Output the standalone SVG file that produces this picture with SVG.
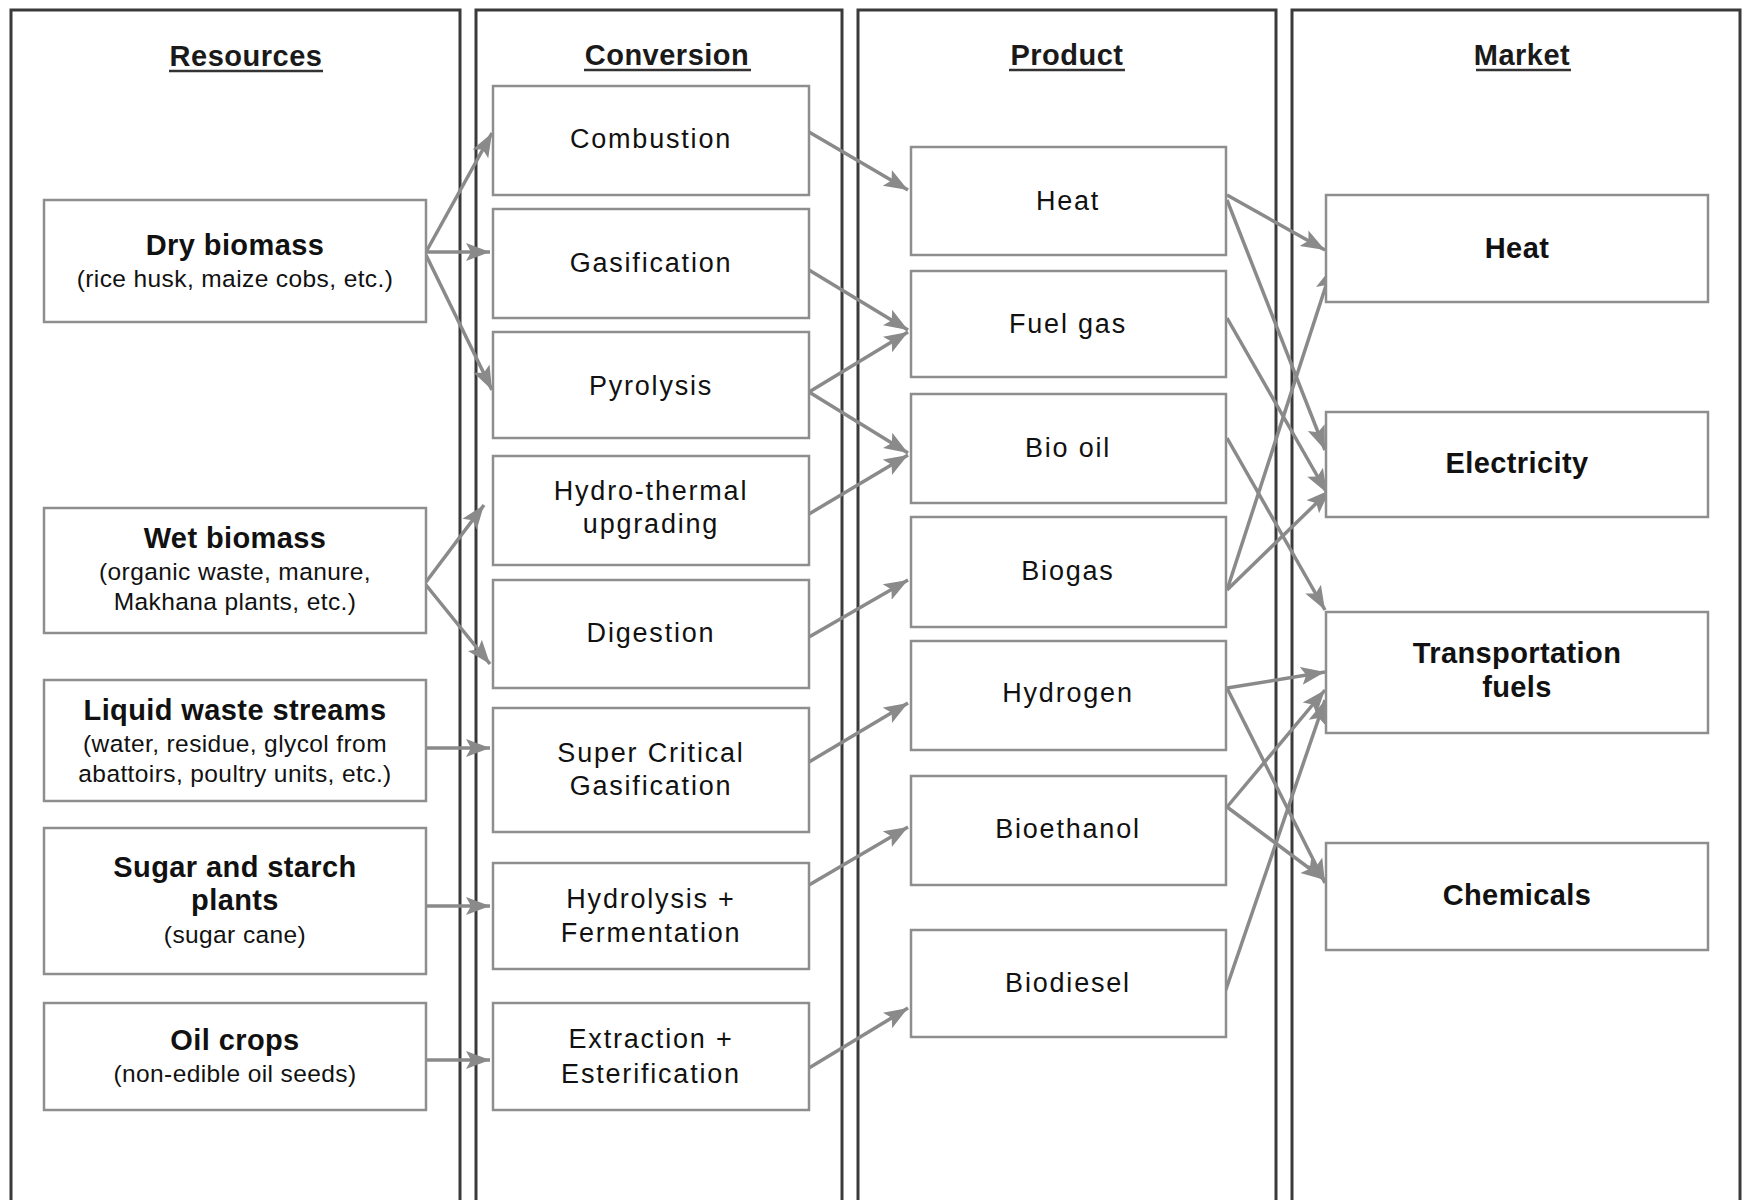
<svg xmlns="http://www.w3.org/2000/svg" width="1744" height="1200" viewBox="0 0 1744 1200">
<style>
.panel{fill:none;stroke:#3a3a3a;stroke-width:3}
.box{fill:#fff;stroke:#8e8e8e;stroke-width:2.5}
.h{font-family:"Liberation Sans",Arial,sans-serif;font-weight:bold;font-size:29px;fill:#1a1a1a;text-anchor:middle;letter-spacing:0.5px}
.ul{stroke:#333;stroke-width:2.5}
.b{font-family:"Liberation Sans",Arial,sans-serif;font-weight:bold;font-size:29px;fill:#111;text-anchor:middle;letter-spacing:0.4px}
.s{font-family:"Liberation Sans",Arial,sans-serif;font-size:24.5px;fill:#111;text-anchor:middle;letter-spacing:0.4px}
.t{font-family:"Liberation Sans",Arial,sans-serif;font-size:27px;fill:#111;text-anchor:middle;letter-spacing:1.8px}
.c{fill:none;stroke:#8a8a8a;stroke-width:3.5;marker-end:url(#ah)}
</style>
<defs>
<marker id="ah" markerUnits="userSpaceOnUse" markerWidth="26" markerHeight="20" refX="24" refY="10" orient="auto">
<path d="M0,1 L24,10 L0,19 L5,10 Z" fill="#8a8a8a"/>
</marker>
</defs>
<rect width="1744" height="1200" fill="#fff"/>
<g id="panels">
<rect class="panel" x="11" y="10" width="449" height="1210"/>
<rect class="panel" x="476" y="10" width="366" height="1210"/>
<rect class="panel" x="858" y="10" width="418" height="1210"/>
<rect class="panel" x="1292" y="10" width="448" height="1210"/>
<text class="h" x="246" y="66">Resources</text>
<line class="ul" x1="169" y1="71" x2="323" y2="71"/>
<text class="h" x="667" y="65">Conversion</text>
<line class="ul" x1="584" y1="70" x2="751" y2="70"/>
<text class="h" x="1067" y="65">Product</text>
<line class="ul" x1="1009" y1="70" x2="1125" y2="70"/>
<text class="h" x="1522" y="65">Market</text>
<line class="ul" x1="1476" y1="70" x2="1571" y2="70"/>
</g>
<g id="connectors">
<line class="c" x1="426" y1="252" x2="492" y2="133"/>
<line class="c" x1="426" y1="252" x2="490" y2="252"/>
<line class="c" x1="426" y1="255" x2="492" y2="390"/>
<line class="c" x1="426" y1="582" x2="484" y2="505"/>
<line class="c" x1="426" y1="585" x2="490" y2="664"/>
<line class="c" x1="426" y1="748" x2="490" y2="748"/>
<line class="c" x1="426" y1="906" x2="490" y2="906"/>
<line class="c" x1="426" y1="1060" x2="490" y2="1060"/>
<line class="c" x1="809" y1="132" x2="908" y2="190"/>
<line class="c" x1="809" y1="270" x2="908" y2="330"/>
<line class="c" x1="809" y1="392" x2="908" y2="332"/>
<line class="c" x1="809" y1="392" x2="908" y2="453"/>
<line class="c" x1="809" y1="514" x2="908" y2="455"/>
<line class="c" x1="809" y1="637" x2="908" y2="580"/>
<line class="c" x1="809" y1="762" x2="908" y2="703"/>
<line class="c" x1="809" y1="885" x2="908" y2="827"/>
<line class="c" x1="809" y1="1068" x2="908" y2="1008"/>
<line class="c" x1="1227" y1="195" x2="1325" y2="250"/>
<line class="c" x1="1227" y1="200" x2="1325" y2="450"/>
<line class="c" x1="1227" y1="318" x2="1327" y2="493"/>
<line class="c" x1="1227" y1="438" x2="1325" y2="610"/>
<line class="c" x1="1227" y1="590" x2="1332" y2="267"/>
<line class="c" x1="1227" y1="590" x2="1330" y2="490"/>
<line class="c" x1="1227" y1="688" x2="1325" y2="672"/>
<line class="c" x1="1227" y1="688" x2="1325" y2="883"/>
<line class="c" x1="1227" y1="807" x2="1325" y2="690"/>
<line class="c" x1="1227" y1="807" x2="1325" y2="880"/>
<line class="c" x1="1223" y1="998" x2="1325" y2="700"/>
</g>
<g id="res-dry"><rect class="box" x="44" y="200" width="382" height="122"/>
<text class="b" x="235" y="255">Dry biomass</text>
<text class="s" x="235" y="287">(rice husk, maize cobs, etc.)</text></g>
<g id="res-wet"><rect class="box" x="44" y="508" width="382" height="125"/>
<text class="b" x="235" y="548">Wet biomass</text>
<text class="s" x="235" y="580">(organic waste, manure,</text>
<text class="s" x="235" y="610">Makhana plants, etc.)</text></g>
<g id="res-liquid"><rect class="box" x="44" y="680" width="382" height="121"/>
<text class="b" x="235" y="720">Liquid waste streams</text>
<text class="s" x="235" y="752">(water, residue, glycol from</text>
<text class="s" x="235" y="782">abattoirs, poultry units, etc.)</text></g>
<g id="res-sugar"><rect class="box" x="44" y="828" width="382" height="146"/>
<text class="b" x="235" y="877">Sugar and starch</text>
<text class="b" x="235" y="910">plants</text>
<text class="s" x="235" y="943">(sugar cane)</text></g>
<g id="res-oil"><rect class="box" x="44" y="1003" width="382" height="107"/>
<text class="b" x="235" y="1050">Oil crops</text>
<text class="s" x="235" y="1082">(non-edible oil seeds)</text></g>
<g id="conv-combustion"><rect class="box" x="493" y="86" width="316" height="109"/>
<text class="t" x="651" y="148">Combustion</text></g>
<g id="conv-gasification"><rect class="box" x="493" y="209" width="316" height="109"/>
<text class="t" x="651" y="272">Gasification</text></g>
<g id="conv-pyrolysis"><rect class="box" x="493" y="332" width="316" height="106"/>
<text class="t" x="651" y="395">Pyrolysis</text></g>
<g id="conv-hydrothermal"><rect class="box" x="493" y="456" width="316" height="109"/>
<text class="t" x="651" y="500">Hydro-thermal</text>
<text class="t" x="651" y="533">upgrading</text></g>
<g id="conv-digestion"><rect class="box" x="493" y="580" width="316" height="108"/>
<text class="t" x="651" y="642">Digestion</text></g>
<g id="conv-supercritical"><rect class="box" x="493" y="708" width="316" height="124"/>
<text class="t" x="651" y="762">Super Critical</text>
<text class="t" x="651" y="795">Gasification</text></g>
<g id="conv-hydrolysis"><rect class="box" x="493" y="863" width="316" height="106"/>
<text class="t" x="651" y="908">Hydrolysis +</text>
<text class="t" x="651" y="942">Fermentation</text></g>
<g id="conv-extraction"><rect class="box" x="493" y="1003" width="316" height="107"/>
<text class="t" x="651" y="1048">Extraction +</text>
<text class="t" x="651" y="1083">Esterification</text></g>
<g id="prod-heat"><rect class="box" x="911" y="147" width="315" height="108"/>
<text class="t" x="1068" y="210">Heat</text></g>
<g id="prod-fuelgas"><rect class="box" x="911" y="271" width="315" height="106"/>
<text class="t" x="1068" y="333">Fuel gas</text></g>
<g id="prod-biooil"><rect class="box" x="911" y="394" width="315" height="109"/>
<text class="t" x="1068" y="457">Bio oil</text></g>
<g id="prod-biogas"><rect class="box" x="911" y="517" width="315" height="110"/>
<text class="t" x="1068" y="580">Biogas</text></g>
<g id="prod-hydrogen"><rect class="box" x="911" y="641" width="315" height="109"/>
<text class="t" x="1068" y="702">Hydrogen</text></g>
<g id="prod-bioethanol"><rect class="box" x="911" y="776" width="315" height="109"/>
<text class="t" x="1068" y="838">Bioethanol</text></g>
<g id="prod-biodiesel"><rect class="box" x="911" y="930" width="315" height="107"/>
<text class="t" x="1068" y="992">Biodiesel</text></g>
<g id="mkt-heat"><rect class="box" x="1326" y="195" width="382" height="107"/>
<text class="b" x="1517" y="258">Heat</text></g>
<g id="mkt-electricity"><rect class="box" x="1326" y="412" width="382" height="105"/>
<text class="b" x="1517" y="473">Electricity</text></g>
<g id="mkt-transport"><rect class="box" x="1326" y="612" width="382" height="121"/>
<text class="b" x="1517" y="663">Transportation</text>
<text class="b" x="1517" y="697">fuels</text></g>
<g id="mkt-chemicals"><rect class="box" x="1326" y="843" width="382" height="107"/>
<text class="b" x="1517" y="905">Chemicals</text></g>
</svg>
